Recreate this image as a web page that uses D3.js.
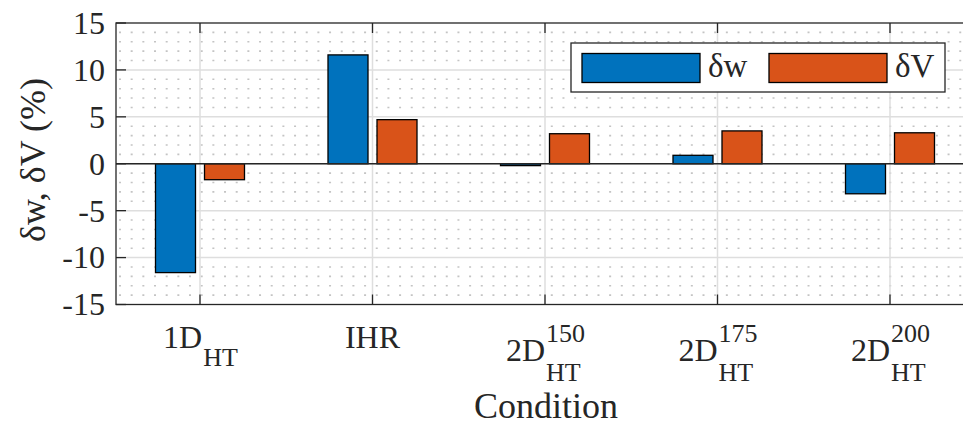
<!DOCTYPE html>
<html>
<head>
<meta charset="utf-8">
<script src="https://cdn.jsdelivr.net/npm/d3@7"></script>
<style>
  html, body { margin: 0; padding: 0; background: #fff; }
  svg { display: block; }
  text { font-family: "Liberation Serif", "Times New Roman", serif; fill: #262626; }
</style>
</head>
<body>
<svg id="chart" width="963" height="422"></svg>
<script>
// ---- data ----
const categories = ["1D_HT", "IHR", "2D_HT^150", "2D_HT^175", "2D_HT^200"];
const catMain = ["1D", "IHR", "2D", "2D", "2D"];
const catSub  = ["HT", "", "HT", "HT", "HT"];
const catSup  = ["", "", "150", "175", "200"];
const seriesNames = ["δw", "δV"];
const deltaW = [-11.6, 11.6, -0.2, 0.9, -3.2];
const deltaV = [-1.7, 4.7, 3.2, 3.5, 3.3];
const yTicks = [-15, -10, -5, 0, 5, 10, 15];
const yMinorTicks = d3.range(-14, 15).filter(v => v % 5 !== 0);
const colors = ["#0072BD", "#D95319"];

// ---- layout ----
const svg = d3.select("#chart");
const plotLeft = 116, plotTop = 23, plotBottom = 304.5;
const x = d3.scaleLinear().domain([1, 5]).range([200, 890]);
const plotRight = x(5.5) + 2;
const y = d3.scaleLinear().domain([-15, 15]).range([plotBottom, plotTop]);
const xSub = d3.scaleBand().domain([0, 1]).range([-44.5, 44.5]).paddingInner(9 / 49).paddingOuter(0);

const axisColor = "#262626";

// minor grid (dotted)
svg.append("g").selectAll("line").data(yMinorTicks).join("line")
  .attr("x1", plotLeft + 3).attr("x2", plotRight)
  .attr("y1", d => y(d)).attr("y2", d => y(d))
  .attr("stroke", "#c4c4c4").attr("stroke-width", 1.6)
  .attr("stroke-dasharray", "2,9.67");

// major grid
svg.append("g").selectAll("line").data(yTicks.slice(1, -1)).join("line")
  .attr("x1", plotLeft).attr("x2", plotRight)
  .attr("y1", d => y(d)).attr("y2", d => y(d))
  .attr("stroke", "#dedede").attr("stroke-width", 1.5);
svg.append("g").selectAll("line").data(d3.range(1, 6)).join("line")
  .attr("x1", d => x(d)).attr("x2", d => x(d))
  .attr("y1", plotTop).attr("y2", plotBottom)
  .attr("stroke", "#dedede").attr("stroke-width", 1.5);

// bars
const seriesData = [deltaW, deltaV];
seriesData.forEach((vals, s) => {
  svg.append("g").selectAll("rect").data(vals).join("rect")
    .attr("x", (d, i) => x(i + 1) + xSub(s))
    .attr("width", xSub.bandwidth())
    .attr("y", d => y(Math.max(0, d)))
    .attr("height", d => Math.abs(y(d) - y(0)))
    .attr("fill", colors[s])
    .attr("stroke", "#000").attr("stroke-width", 1.3);
});

// zero baseline
svg.append("line").attr("x1", plotLeft).attr("x2", plotRight)
  .attr("y1", y(0)).attr("y2", y(0))
  .attr("stroke", axisColor).attr("stroke-width", 1.3);

// axes box
svg.append("rect").attr("x", plotLeft).attr("y", plotTop)
  .attr("width", plotRight - plotLeft).attr("height", plotBottom - plotTop)
  .attr("fill", "none").attr("stroke", axisColor).attr("stroke-width", 1.3);

// ticks
const tickLen = 10;
svg.append("g").selectAll("line").data(yTicks).join("line")
  .attr("x1", plotLeft).attr("x2", plotLeft + tickLen)
  .attr("y1", d => y(d)).attr("y2", d => y(d))
  .attr("stroke", axisColor).attr("stroke-width", 1.3);
svg.append("g").selectAll("line").data(d3.range(1, 6)).join("line")
  .attr("x1", d => x(d)).attr("x2", d => x(d))
  .attr("y1", plotBottom).attr("y2", plotBottom - tickLen)
  .attr("stroke", axisColor).attr("stroke-width", 1.3);
svg.append("g").selectAll("line").data(d3.range(1, 6)).join("line")
  .attr("x1", d => x(d)).attr("x2", d => x(d))
  .attr("y1", plotTop).attr("y2", plotTop + tickLen)
  .attr("stroke", axisColor).attr("stroke-width", 1.3);

// y tick labels
svg.append("g").selectAll("text").data(yTicks).join("text")
  .attr("x", 105).attr("y", d => y(d)).attr("dy", "0.34em")
  .attr("text-anchor", "end").attr("font-size", 32)
  .text(d => d < 0 ? "-" + Math.abs(d) : String(d));

// x tick labels with sub/superscripts
categories.forEach((c, i) => {
  const g = svg.append("g");
  const hasSup = catSup[i] !== "";
  const hasSub = catSub[i] !== "";
  const baseY = hasSup ? 361 : 348;
  const main = g.append("text").attr("y", baseY).attr("font-size", 32).text(catMain[i]);
  const mw = main.node().getComputedTextLength();
  let sw = 0, pw = 0, sub, sup;
  if (hasSub) {
    sub = g.append("text").attr("y", hasSup ? 381 : 366).attr("font-size", 26).text(catSub[i]);
    sw = sub.node().getComputedTextLength();
  }
  if (hasSup) {
    sup = g.append("text").attr("y", 342).attr("font-size", 26).text(catSup[i]);
    pw = sup.node().getComputedTextLength();
  }
  const total = mw + Math.max(sw, pw);
  const x0 = x(i + 1) - total / 2;
  main.attr("x", x0);
  if (sub) sub.attr("x", x0 + mw + 1);
  if (sup) sup.attr("x", x0 + mw + 1);
});

// axis labels
svg.append("text").attr("x", 546).attr("y", 418)
  .attr("text-anchor", "middle").attr("font-size", 36).text("Condition");
svg.append("text")
  .attr("transform", "translate(45,160) rotate(-90)")
  .attr("text-anchor", "middle").attr("font-size", 36).text("δw, δV (%)");

// legend
const lg = svg.append("g");
lg.append("rect").attr("x", 571).attr("y", 43).attr("width", 374).attr("height", 49)
  .attr("fill", "#fff").attr("stroke", axisColor).attr("stroke-width", 1.3);
const legX = [582, 769];
seriesNames.forEach((n, s) => {
  lg.append("rect").attr("x", legX[s]).attr("y", 53.5).attr("width", 118).attr("height", 29)
    .attr("fill", colors[s]).attr("stroke", "#000").attr("stroke-width", 1.3);
  lg.append("text").attr("x", legX[s] + 126).attr("y", 77).attr("font-size", 33).text(n);
});
</script>
</body>
</html>
